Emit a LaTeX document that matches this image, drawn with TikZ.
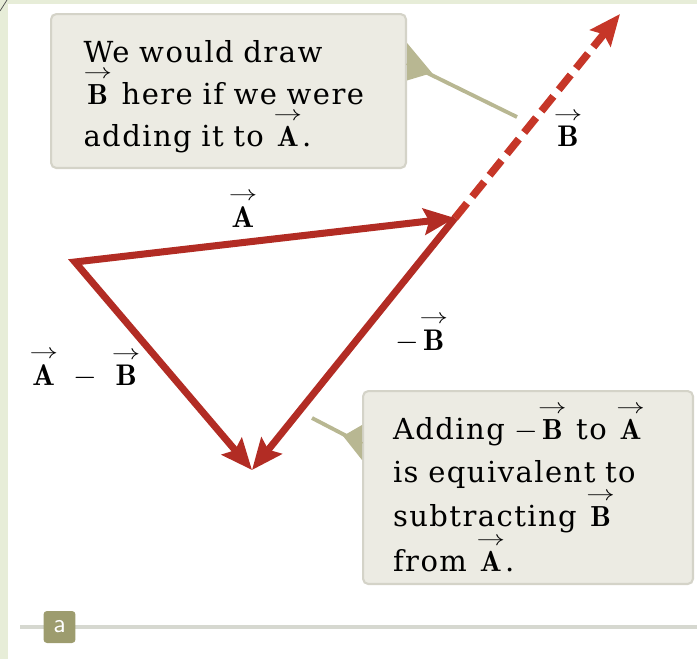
\documentclass[tikz,border=0pt]{standalone}
\usepackage{amsmath}
\usepackage{fontspec}
\usepackage{tikz}
\usetikzlibrary{arrows.meta}

\newfontfamily\notefont{DejaVu Serif}[LetterSpace=5]

\definecolor{vecred}{RGB}{178,44,36}
\definecolor{dashred}{RGB}{198,54,40}
\definecolor{notefill}{RGB}{236,235,227}
\definecolor{noteedge}{RGB}{212,211,200}
\definecolor{pointer}{RGB}{184,183,146}
\definecolor{badge}{RGB}{157,156,110}
\definecolor{rulegray}{RGB}{214,216,208}
\definecolor{strip}{RGB}{231,237,216}

\newcommand{\vecarrow}{\scalebox{1.35}[1]{$\scriptstyle\rightarrow$}}
\newcommand{\VA}{\overset{\vecarrow}{\mathbf{A}}}
\newcommand{\VB}{\overset{\vecarrow}{\mathbf{B}}}

\begin{document}
\begin{tikzpicture}[x=0.02cm, y=-0.02cm, >=Stealth]
\tikzstyle{note} = [draw=noteedge, line width=1.2pt, fill=notefill, rounded corners=3pt, anchor=north west, align=left, font=\notefont\fontsize{16.5}{24}\selectfont]
\tikzstyle{vec} = [draw=vecred, line width=4pt, {Stealth[length=0.62cm,width=0.52cm,inset=0.1cm]}-{Stealth[length=0.62cm,width=0.52cm,inset=0.1cm]}]
\tikzstyle{callout} = [draw=pointer, line width=2.2pt]
\tikzstyle{lbl} = [font=\fontsize{17}{20}\selectfont]

\useasboundingbox (0,0) rectangle (697,659);

% Page edges
\fill[strip] (0,0) rectangle (8,659);
\fill[strip] (0,0) rectangle (697,4);
\draw[gray!60!black, line width=0.4pt] (0,11) -- (7,0);

% Corners of the triangle
\coordinate (tail) at (75,262);
\coordinate (head) at (455,218);
\coordinate (tip) at (252,470);
\coordinate (far) at (620,14);

% Vectors A and A-B share the left corner
\draw[vec] (head) -- (tail) -- (tip);
\draw[draw=vecred, line width=4pt, -{Stealth[length=0.62cm,width=0.52cm,inset=0.1cm]}] (head) -- (tip);
\draw[draw=dashred, line width=4.3pt, dash pattern=on 0.38cm off 0.17cm, -{Stealth[length=0.62cm,width=0.52cm,inset=0.1cm]}] (head) -- (far);

% Vector labels
\node[lbl] (labA) at (243,209) {$\VA$};
\node[lbl] (labAB) at (85,368) {$\VA \;-\; \VB$};
\node[lbl] (labnB) at (422,333) {$-\VB$};
\node[lbl] (labB) at (568,128) {$\VB$};

% Notes
\node[note, minimum width=7.1cm, minimum height=3.08cm, text width=5.8cm, inner xsep=0.65cm] (drawnote) at (50,13) {We would draw\rule{0pt}{19pt}\\ $\VB$ here if we were\\ adding it to $\VA$.};
\node[note, minimum width=6.6cm, minimum height=3.86cm, text width=5.4cm, inner xsep=0.6cm] (subnote) at (362,390) {Adding $-\VB$ to $\VA$\\ is equivalent to\\ subtracting $\VB$\\ from $\VA$.};

% Pointers
\coordinate (drawtip) at (517,117);
\coordinate (subtip) at (312,418);
\draw[callout] ([yshift=-1.0cm]drawnote.north east) -- (drawtip);
\fill[pointer] ([yshift=-0.6cm]drawnote.north east) -- ([yshift=-1.35cm]drawnote.north east) -- ([xshift=0.5cm,yshift=-1.2cm]drawnote.north east) -- cycle;
\draw[callout] ([yshift=-1.08cm]subnote.north west) -- (subtip);
\fill[pointer] ([yshift=-0.7cm]subnote.north west) -- ([yshift=-1.4cm]subnote.north west) -- ([xshift=-0.38cm,yshift=-0.92cm]subnote.north west) -- cycle;

% Panel rule
\draw[rulegray, line width=2pt] (20,627) -- (697,627);
\node[fill=badge, rounded corners=2pt, minimum size=0.64cm, inner sep=0pt, text=white, font=\sffamily\fontsize{15}{15}\selectfont] (panel) at (59.5,627) {a};

\end{tikzpicture}
\end{document}
